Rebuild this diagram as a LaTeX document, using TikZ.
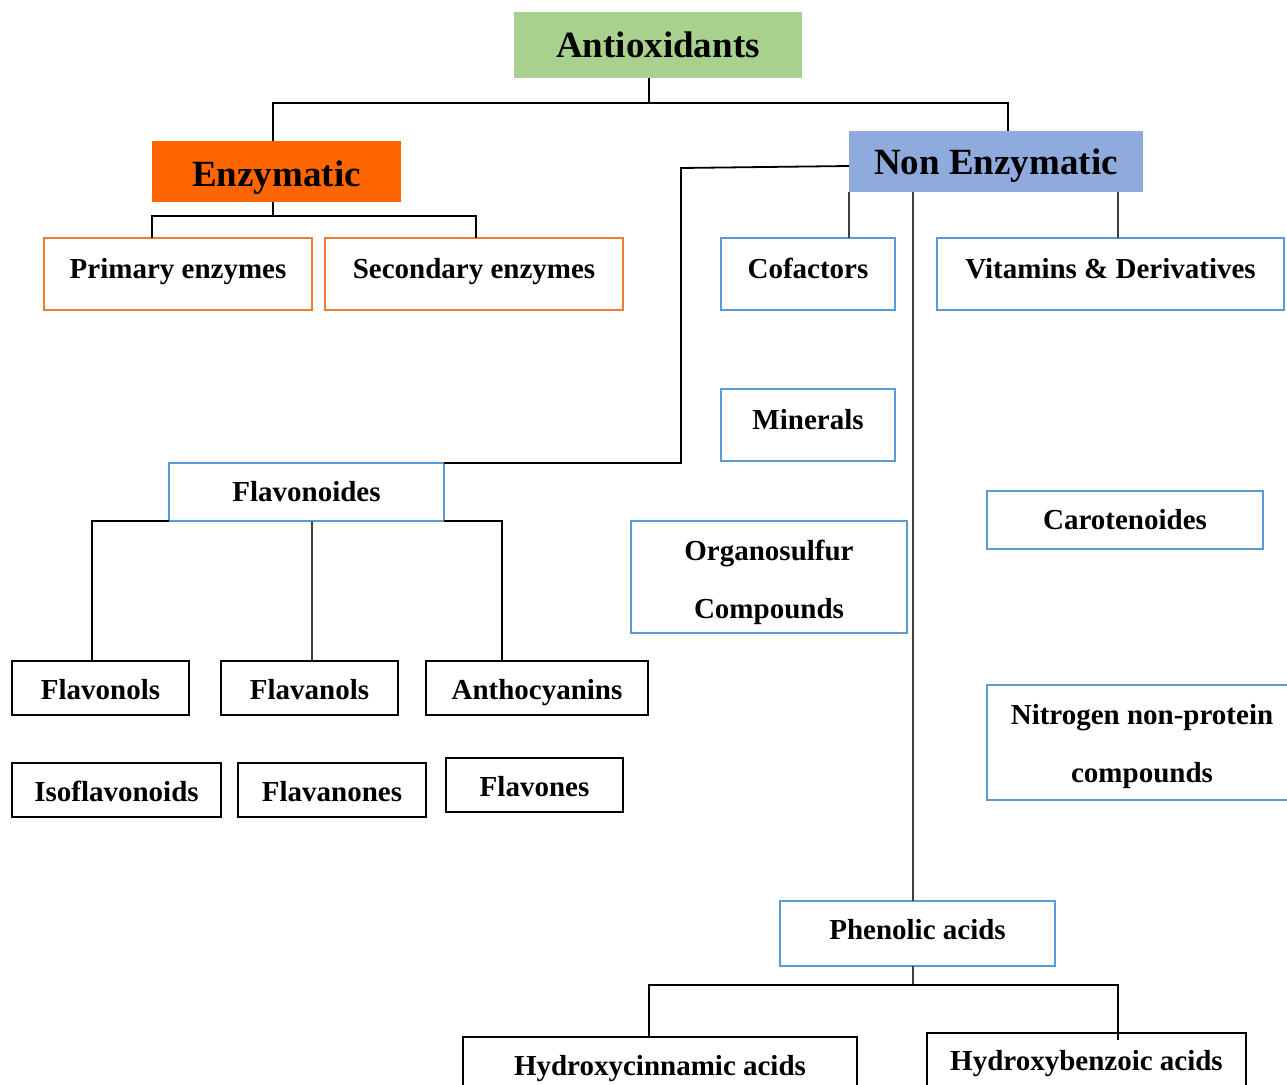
\documentclass[tikz,border=0pt]{standalone}
\usepackage{fontspec}
\setmainfont{Liberation Serif}
\usetikzlibrary{calc}
\definecolor{cgreen}{HTML}{A9D18E}
\definecolor{corange}{HTML}{FF6600}
\definecolor{cblue}{HTML}{8FAADC}
\definecolor{oborder}{HTML}{ED7D31}
\definecolor{bborder}{HTML}{5B9BD5}
\newcommand{\twolines}[2]{\vtop{\baselineskip=58pt\halign{\hfil##\hfil\cr #1\cr #2\cr}}}
\begin{document}
\begin{tikzpicture}[x=1pt,y=-1pt,
  base/.style={anchor=north west,inner sep=0pt,outer sep=0pt,
    font=\fontsize{29}{58}\selectfont\bfseries},
  head/.style={base,font=\fontsize{37}{44}\selectfont\bfseries},
  obox/.style={base,draw=oborder,line width=2.5pt},
  bbox/.style={base,draw=bborder,line width=2.5pt},
  kbox/.style={base,draw=black,line width=1.5pt},
  conn/.style={draw=black,line width=1.8pt},
  thin/.style={draw=black!75,line width=1.5pt}]
\useasboundingbox (0,0) rectangle (1287,1084);
\clip (0,0) rectangle (1287,1084);
% headers
\node[head,fill=cgreen,minimum width=288pt,text height=45pt,text depth=21pt] (anti) at (514,12) {Antioxidants};
\node[head,fill=corange,minimum width=249pt,text height=45pt,text depth=16pt] (enz) at (152,141) {Enzymatic};
\node[head,fill=cblue,minimum width=294pt,text height=43pt,text depth=18pt] (nonenz) at (849,131) {Non Enzymatic};
% enzymatic children
\node[obox,minimum width=268pt,text height=40pt,text depth=32pt] (prim) at (44,238) {Primary enzymes};
\node[obox,minimum width=298pt,text height=40pt,text depth=32pt] (sec) at (325,238) {Secondary enzymes};
% non enzymatic children
\node[bbox,minimum width=174pt,text height=40pt,text depth=32pt] (cof) at (721,238) {Cofactors};
\node[bbox,minimum width=347pt,text height=40pt,text depth=32pt] (vit) at (937,238) {Vitamins \& Derivatives};
\node[bbox,minimum width=174pt,text height=40pt,text depth=32pt] (min) at (721,389) {Minerals};
\node[bbox,minimum width=275pt,text height=38pt,text depth=20pt] (flav) at (169,463) {Flavonoides};
\node[bbox,minimum width=276pt,text height=39pt,text depth=73pt] (org) at (631,521) {\twolines{Organosulfur}{Compounds}};
\node[bbox,minimum width=276pt,text height=38pt,text depth=20pt] (car) at (987,491) {Carotenoides};
\node[bbox,minimum width=310pt,text height=39pt,text depth=76pt] (nit) at (987,685) {\twolines{Nitrogen non-protein}{compounds}};
\node[bbox,minimum width=275pt,text height=38pt,text depth=27pt] (phen) at (780,901) {Phenolic acids};
% flavonoid children
\node[kbox,minimum width=177pt,text height=38pt,text depth=16pt] (fol) at (12,661) {Flavonols};
\node[kbox,minimum width=177pt,text height=38pt,text depth=16pt] (fan) at (221,661) {Flavanols};
\node[kbox,minimum width=222pt,text height=38pt,text depth=16pt] (ant) at (426,661) {Anthocyanins};
\node[kbox,minimum width=209pt,text height=38pt,text depth=16pt] (iso) at (12,763) {Isoflavonoids};
\node[kbox,minimum width=188pt,text height=38pt,text depth=16pt] (fnon) at (238,763) {Flavanones};
\node[kbox,minimum width=177pt,text height=38pt,text depth=16pt] (fone) at (446,758) {Flavones};
% phenolic children
\node[kbox,minimum width=394pt,text height=38pt,text depth=40pt] (hca) at (463,1037) {Hydroxycinnamic acids};
\node[kbox,minimum width=319pt,text height=37pt,text depth=44pt] (hba) at (927,1033) {Hydroxybenzoic acids};
% connectors
\coordinate (j1) at (649,103);
\draw[conn] (anti.south -| j1) -- (j1);
\draw[conn] (enz.north -| 273,0) |- (j1) -| (nonenz.north -| 1008,0);
\coordinate (j2) at (273,216);
\draw[conn] (enz.south -| 273,0) -- (j2);
\draw[conn] (prim.north -| 152,0) |- (j2) -| (sec.north -| 476,0);
\draw[conn] ($(nonenz.north west)+(0,35)$) -- (681,168) |- (flav.north east);
\draw[thin] (nonenz.south west) -- (cof.north -| nonenz.south west);
\draw[thin] (nonenz.south -| 1118,0) -- (vit.north -| 1118,0);
\draw[thin] (nonenz.south -| 913,0) -- (phen.north -| 913,0);
\draw[conn] (fol.north -| 92,0) |- (flav.south west);
\draw[conn] (flav.south east) -| (ant.north -| 502,0);
\draw[thin] (flav.south -| 312,0) -- (fan.north -| 312,0);
\coordinate (j3) at (913,985);
\draw[thin] (phen.south -| 913,0) -- (j3);
\draw[conn] (hca.north -| 649,0) |- (j3) -| (1118,1040);
\end{tikzpicture}
\end{document}
